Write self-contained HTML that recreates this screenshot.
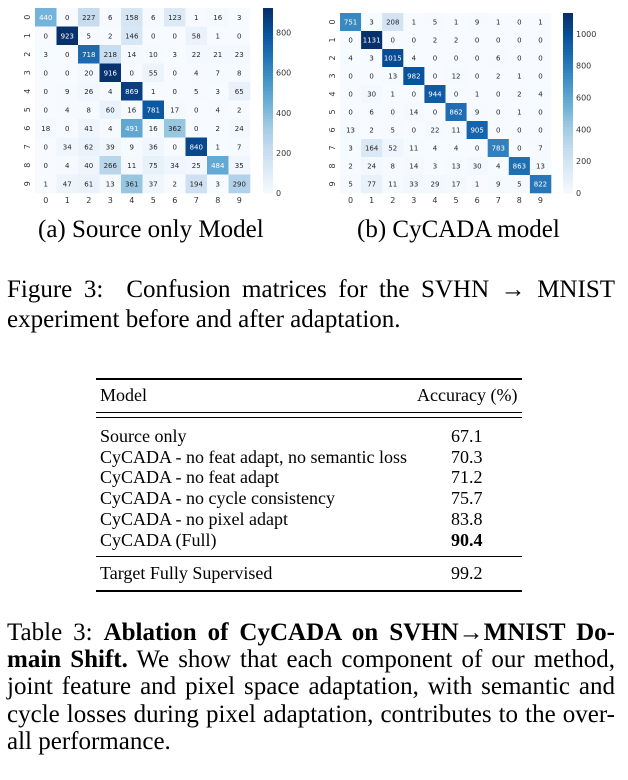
<!DOCTYPE html>
<html><head><meta charset="utf-8"><style>
body{margin:0;width:628px;height:780px;background:#fff;position:relative;overflow:hidden;font-family:"Liberation Serif",serif;color:#000}
.t{position:absolute;white-space:nowrap}
.j{position:absolute;left:7px;width:608px;text-align:justify;font-size:25px}
.j span{display:block;text-align:justify;text-align-last:justify;white-space:nowrap}
.j span.last{text-align-last:left}
svg text{font-family:"DejaVu Sans",sans-serif}
.rule{position:absolute;left:96px;width:426px;background:#000}
</style></head><body>
<svg id="cm" width="628" height="215" style="position:absolute;left:0;top:0"></svg>
<div class="t" style="left:38px;top:215px;font-size:25px;line-height:30px">(a) Source only Model</div>
<div class="t" style="left:357px;top:215px;font-size:25px;line-height:30px">(b) CyCADA model</div>
<div class="j" style="top:275px;line-height:30px"><span>Figure 3: &nbsp;Confusion matrices for the SVHN &rarr; MNIST</span><span class="last">experiment before and after adaptation.</span></div>

<div>
<div class="rule" style="top:378px;height:1.5px"></div>
<div class="rule" style="top:412px;height:1px"></div>
<div class="rule" style="top:417px;height:1px"></div>
<div class="rule" style="top:556px;height:1px"></div>
<div class="rule" style="top:590px;height:1.5px"></div>
<div class="t" style="left:100px;top:385px;font-size:18px">Model</div>
<div class="t" style="left:417px;top:385px;font-size:18px">Accuracy (%)</div>
<div class="t" style="left:100px;top:426px;font-size:18px;line-height:20.7px">Source only<br>CyCADA - no feat adapt, no semantic loss<br>CyCADA - no feat adapt<br>CyCADA - no cycle consistency<br>CyCADA - no pixel adapt<br>CyCADA (Full)</div>
<div class="t" style="left:451px;top:426px;font-size:18px;line-height:20.7px">67.1<br>70.3<br>71.2<br>75.7<br>83.8<br><b>90.4</b></div>
<div class="t" style="left:100px;top:563px;font-size:18px">Target Fully Supervised</div>
<div class="t" style="left:451px;top:563px;font-size:18px">99.2</div>
</div>

<div class="j" style="top:619px;line-height:27.2px"><span>Table 3: <b>Ablation of CyCADA on SVHN&rarr;MNIST Do-</b></span><span><b>main Shift.</b> We show that each component of our method,</span><span>joint feature and pixel space adaptation, with semantic and</span><span>cycle losses during pixel adaptation, contributes to the over-</span><span class="last">all performance.</span></div>

<script>
const labels=[0,1,2,3,4,5,6,7,8,9];
const cmA=[
[440,0,227,6,158,6,123,1,16,3],
[0,923,5,2,146,0,0,58,1,0],
[3,0,718,218,14,10,3,22,21,23],
[0,0,20,916,0,55,0,4,7,8],
[0,9,26,4,869,1,0,5,3,65],
[0,4,8,60,16,781,17,0,4,2],
[18,0,41,4,491,16,362,0,2,24],
[0,34,62,39,9,36,0,840,1,7],
[0,4,40,266,11,75,34,25,484,35],
[1,47,61,13,361,37,2,194,3,290]];
const cmB=[
[751,3,208,1,5,1,9,1,0,1],
[0,1131,0,0,2,2,0,0,0,0],
[4,3,1015,4,0,0,0,6,0,0],
[0,0,13,982,0,12,0,2,1,0],
[0,30,1,0,944,0,1,0,2,4],
[0,6,0,14,0,862,9,0,1,0],
[13,2,5,0,22,11,905,0,0,0],
[3,164,52,11,4,4,0,783,0,7],
[2,24,8,14,3,13,30,4,863,13],
[5,77,11,33,29,17,1,9,5,822]];
const ticksA=[0,200,400,600,800];
const ticksB=[0,200,400,600,800,1000];
const stops=[[247,251,255],[222,235,247],[198,219,239],[158,202,225],[107,174,214],[66,146,198],[33,113,181],[8,81,156],[8,48,107]];
function blues(t){t=Math.max(0,Math.min(1,t));const p=t*(stops.length-1),i=Math.min(stops.length-2,Math.floor(p)),f=p-i;
const c=stops[i].map((v,k)=>Math.round(v+(stops[i+1][k]-v)*f));return `rgb(${c})`;}
const svg=document.getElementById('cm');const NS='http://www.w3.org/2000/svg';
function mk(tag,at,txt){const e=document.createElementNS(NS,tag);for(const k in at)e.setAttribute(k,at[k]);if(txt!==undefined)e.textContent=txt;svg.appendChild(e);return e;}
function draw(m,ticks,x0,x1,y0,y1,cbx,name){
  const mx=Math.max(...m.flat());const cw=(x1-x0)/10,ch=(y1-y0)/10;
  m.forEach((row,r)=>row.forEach((v,c)=>{
    const rc=mk('rect',{x:x0+c*cw,y:y0+r*ch,width:cw+0.3,height:ch+0.3,fill:blues(v/mx)});
    
    
    const tx=mk('text',{x:x0+(c+.5)*cw,y:y0+(r+.5)*ch+2.5,'font-size':7,'text-anchor':'middle',fill:v/mx>0.45?'#fff':'#262626'},v);
    
    
  }));
  labels.forEach((l,i)=>{
    const a=mk('text',{x:x0+(i+.5)*cw,y:y1+10,'font-size':8,'text-anchor':'middle',fill:'#333'},l);
    
    
    const yy=y0+(i+.5)*ch;
    const b=mk('text',{x:x0-8,y:yy,'font-size':8,'text-anchor':'middle',fill:'#333',transform:`rotate(-90 ${x0-8} ${yy}) translate(0 3)`},l);
    
    
  });
  const N=60;for(let i=0;i<N;i++){const r=mk('rect',{x:cbx,y:y0+(y1-y0)*i/N,width:10,height:(y1-y0)/N+0.5,fill:blues(1-i/N)});
    
    }
  ticks.forEach(t=>{const y=y1-(y1-y0)*t/mx;
    const tt=mk('text',{x:cbx+13,y:y+3,'font-size':8,fill:'#333'},t);
    
    });
}
draw(cmA,ticksA,35,250,8,193,263,'matrix-a');
draw(cmB,ticksB,340,551,13,193,563,'matrix-b');
</script>
</body></html>
